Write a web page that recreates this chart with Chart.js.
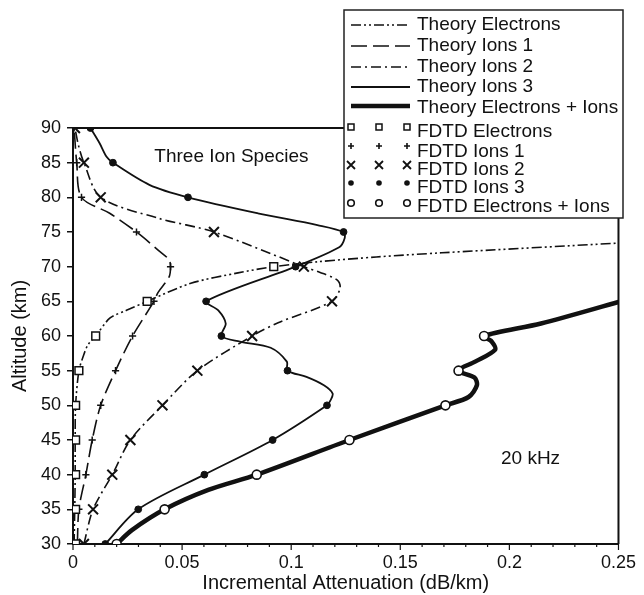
<!DOCTYPE html>
<html>
<head>
<meta charset="utf-8">
<script src="https://cdn.jsdelivr.net/npm/chart.js"></script>
<style>
  html, body { margin: 0; padding: 0; background: #ffffff; }
  #wrap { width: 644px; height: 595px; }
</style>
</head>
<body>
<div id="wrap"><canvas id="chart" width="644" height="595"></canvas></div>
<script>
// Altitudes (km) at which the FDTD attenuation was sampled
const altitudesKm = [30, 35, 40, 45, 50, 55, 60, 65, 70, 75, 80, 85, 90];

// FDTD incremental attenuation (dB/km) per altitude; null = off the plotted range
const fdtdElectrons      = [0.0012, 0.0012, 0.0012, 0.0012, 0.0012, 0.0027, 0.0104, 0.034, 0.092, null, null, null, null];
const fdtdIons1          = [0.002, 0.0027, 0.0059, 0.0088, 0.0127, 0.0195, 0.0273, 0.0371, 0.0447, 0.0291, 0.0039, 0.0017, 0.0005];
const fdtdIons2          = [0.005, 0.0092, 0.018, 0.0263, 0.041, 0.057, 0.0821, 0.1187, 0.1058, 0.0646, 0.0127, 0.005, 0.0009];
const fdtdIons3          = [0.0148, 0.0299, 0.0602, 0.0915, 0.1164, 0.0983, 0.068, 0.061, 0.102, 0.124, 0.0527, 0.0183, 0.008];
const fdtdElectronsIons  = [0.020, 0.042, 0.0842, 0.1267, 0.1707, 0.1767, 0.1884, null, null, null, null, null, null];

// Theory curves: attenuation (dB/km) with the matching altitude (km)
const theoryElectronsAtt = [0.0005, 0.0008, 0.001, 0.001, 0.0012, 0.0027, 0.0045, 0.0068, 0.0104, 0.017, 0.0245, 0.034, 0.054, 0.0756, 0.092, 0.112, 0.139, 0.169, 0.25];
const theoryElectronsAlt = [30, 35, 40, 45, 50, 55, 56.9, 58.7, 60, 62.6, 63.7, 65, 67.6, 69.1, 70, 70.7, 71.4, 72.0, 73.4];

const theoryIons1Att = [0.002, 0.0027, 0.0059, 0.0088, 0.0127, 0.0195, 0.0273, 0.0371, 0.039, 0.044, 0.0447, 0.044, 0.039, 0.0291, 0.0168, 0.0039, 0.0017, 0.0005];
const theoryIons1Alt = [30, 35, 40, 45, 50, 55, 60, 65, 66.3, 68.5, 70, 71, 72.4, 75, 77.7, 80, 85, 90];

const theoryIons2Att = [0.005, 0.0092, 0.018, 0.0263, 0.041, 0.057, 0.0821, 0.094, 0.1187, 0.1224, 0.121, 0.113, 0.1058, 0.0646, 0.039, 0.0127, 0.005, 0.0025, 0.0009];
const theoryIons2Alt = [30, 35, 40, 45, 50, 55, 60, 61.9, 65, 66.9, 68.1, 69.2, 70, 75, 77, 80, 85, 87.5, 90];

const theoryIons3Att = [0.0148, 0.0299, 0.0602, 0.0915, 0.1164, 0.118, 0.119, 0.115, 0.107, 0.0983, 0.098, 0.0906, 0.0765, 0.068, 0.070, 0.0666, 0.061, 0.102, 0.122, 0.1245, 0.124, 0.112, 0.0847, 0.0527, 0.035, 0.0183, 0.0153, 0.0122, 0.008];
const theoryIons3Alt = [30, 35, 40, 45, 50, 50.7, 51.7, 52.9, 54.1, 55, 56.3, 58.3, 59.2, 60, 61.8, 63.7, 65, 70, 72.8, 74.1, 75, 76.0, 77.7, 80, 81.8, 85, 85.9, 87.8, 90];

const theoryElectronsIonsAtt = [0.020, 0.027, 0.042, 0.062, 0.0842, 0.1267, 0.1707, 0.1813, 0.1851, 0.184, 0.1767, 0.1843, 0.1934, 0.1919, 0.1884, 0.2145, 0.25];
const theoryElectronsIonsAlt = [30, 32, 35, 37.8, 40, 45, 50, 51.2, 52.9, 54.0, 55, 56.3, 58.0, 59.2, 60, 61.8, 64.9];

// Axis ranges and tick labels
const attenuationTicks = [0, 0.05, 0.1, 0.15, 0.2, 0.25];
const altitudeTicks = [30, 35, 40, 45, 50, 55, 60, 65, 70, 75, 80, 85, 90];

// Text placed inside the plot, positioned in data units
const notes = [
  { text: 'Three Ion Species', x: 0.0726, y: 85.85 },
  { text: '20 kHz', x: 0.2097, y: 42.36 }
];

const FONT = '"Liberation Sans", Arial, Helvetica, sans-serif';
const INK = '#111111';

function pairs(xs, ys) {
  return xs.map((v, i) => ({ x: v, y: ys[i] }));
}
function profile(values) {
  return altitudesKm.map((a, i) => ({ x: values[i], y: a })).filter(p => p.x !== null);
}

const dashElectrons = [10, 3, 2, 3, 2, 3];
const dashIons1 = [16, 6];
const dashIons2 = [10, 4, 2, 4];

const theoryStyle = (data, dash, width) => ({
  data, showLine: true, borderColor: INK, borderWidth: width, borderDash: dash,
  pointRadius: 0, tension: 0.3, fill: false, order: 2
});
const fdtdStyle = (data, style, radius, bw, bg) => ({
  data, showLine: false, pointStyle: style, pointRadius: radius, pointBorderWidth: bw,
  pointBorderColor: INK, pointBackgroundColor: bg, order: 1
});

const datasets = [
  Object.assign({ label: 'Theory Electrons' }, theoryStyle(pairs(theoryElectronsAtt, theoryElectronsAlt), dashElectrons, 1.6)),
  Object.assign({ label: 'Theory Ions 1' }, theoryStyle(pairs(theoryIons1Att, theoryIons1Alt), dashIons1, 1.6)),
  Object.assign({ label: 'Theory Ions 2' }, theoryStyle(pairs(theoryIons2Att, theoryIons2Alt), dashIons2, 1.6)),
  Object.assign({ label: 'Theory Ions 3' }, theoryStyle(pairs(theoryIons3Att, theoryIons3Alt), [], 1.8)),
  Object.assign({ label: 'Theory Electrons + Ions' }, theoryStyle(pairs(theoryElectronsIonsAtt, theoryElectronsIonsAlt), [], 4.5)),
  Object.assign({ label: 'FDTD Electrons' }, fdtdStyle(profile(fdtdElectrons), 'rect', 5.5, 1.5, '#ffffff')),
  Object.assign({ label: 'FDTD Ions 1' }, fdtdStyle(profile(fdtdIons1), 'cross', 3.6, 1.5, INK)),
  Object.assign({ label: 'FDTD Ions 2' }, fdtdStyle(profile(fdtdIons2), 'crossRot', 7, 2, INK)),
  Object.assign({ label: 'FDTD Ions 3' }, fdtdStyle(profile(fdtdIons3), 'circle', 3.4, 1, INK)),
  Object.assign({ label: 'FDTD Electrons + Ions' }, fdtdStyle(profile(fdtdElectronsIons), 'circle', 4.5, 1.6, '#ffffff'))
];

// Legend rows: line samples for the theory curves, triple markers for FDTD
const legendRows = [
  { label: 'Theory Electrons', kind: 'line', dash: dashElectrons, width: 1.6, y: 25, ty: 25 },
  { label: 'Theory Ions 1', kind: 'line', dash: dashIons1, width: 1.6, y: 46, ty: 46 },
  { label: 'Theory Ions 2', kind: 'line', dash: dashIons2, width: 1.6, y: 67, ty: 67 },
  { label: 'Theory Ions 3', kind: 'line', dash: [], width: 1.8, y: 87, ty: 87 },
  { label: 'Theory Electrons + Ions', kind: 'line', dash: [], width: 4.5, y: 106, ty: 108 },
  { label: 'FDTD Electrons', kind: 'rect', y: 127, ty: 132 },
  { label: 'FDTD Ions 1', kind: 'cross', y: 146, ty: 152 },
  { label: 'FDTD Ions 2', kind: 'crossRot', y: 165, ty: 170 },
  { label: 'FDTD Ions 3', kind: 'dot', y: 183, ty: 188 },
  { label: 'FDTD Electrons + Ions', kind: 'ring', y: 203, ty: 207 }
];

function legendMarker(ctx, kind, x, y) {
  ctx.save();
  ctx.strokeStyle = INK; ctx.fillStyle = INK; ctx.setLineDash([]);
  ctx.beginPath();
  if (kind === 'rect') {
    ctx.lineWidth = 1.5; ctx.fillStyle = '#fff';
    ctx.rect(x - 3, y - 3, 6, 6); ctx.fill(); ctx.stroke();
  } else if (kind === 'cross') {
    ctx.lineWidth = 1.6;
    ctx.moveTo(x - 3, y); ctx.lineTo(x + 3, y); ctx.moveTo(x, y - 3); ctx.lineTo(x, y + 3); ctx.stroke();
  } else if (kind === 'crossRot') {
    ctx.lineWidth = 1.8;
    ctx.moveTo(x - 4, y - 4); ctx.lineTo(x + 4, y + 4); ctx.moveTo(x + 4, y - 4); ctx.lineTo(x - 4, y + 4); ctx.stroke();
  } else if (kind === 'dot') {
    ctx.arc(x, y, 2.8, 0, Math.PI * 2); ctx.fill();
  } else if (kind === 'ring') {
    ctx.lineWidth = 1.6; ctx.fillStyle = '#fff';
    ctx.arc(x, y, 3.3, 0, Math.PI * 2); ctx.fill(); ctx.stroke();
  }
  ctx.restore();
}

const decorations = {
  id: 'decorations',
  afterDraw(chart) {
    const { ctx, chartArea: a, scales: { x, y } } = chart;
    ctx.save();
    // frame on top and right of the plot
    ctx.strokeStyle = INK; ctx.lineWidth = 2; ctx.setLineDash([]);
    ctx.beginPath();
    ctx.moveTo(a.left, a.top); ctx.lineTo(a.right, a.top); ctx.lineTo(a.right, a.bottom);
    ctx.stroke();
    // attenuation ticks every 0.01, longer at labelled values
    ctx.lineWidth = 1.2;
    for (let i = 0; i <= 25; i++) {
      const px = x.getPixelForValue(i / 100);
      const len = i % 5 === 0 ? 6 : 3;
      ctx.beginPath(); ctx.moveTo(px, a.bottom); ctx.lineTo(px, a.bottom + len); ctx.stroke();
    }
    // in-plot notes
    ctx.fillStyle = INK; ctx.font = '19px ' + FONT;
    ctx.textAlign = 'center'; ctx.textBaseline = 'middle';
    notes.forEach(n => ctx.fillText(n.text, x.getPixelForValue(n.x), y.getPixelForValue(n.y)));
    // legend box
    const L = { left: 344, top: 10, width: 279, height: 208 };
    ctx.fillStyle = '#ffffff';
    ctx.fillRect(L.left, L.top, L.width, L.height);
    ctx.strokeStyle = '#222'; ctx.lineWidth = 1.5;
    ctx.strokeRect(L.left, L.top, L.width, L.height);
    legendRows.forEach(r => {
      if (r.kind === 'line') {
        ctx.save();
        ctx.strokeStyle = INK; ctx.lineWidth = r.width; ctx.setLineDash(r.dash);
        ctx.beginPath(); ctx.moveTo(351, r.y); ctx.lineTo(410, r.y); ctx.stroke();
        ctx.restore();
      } else {
        [351, 379, 407].forEach(mx => legendMarker(ctx, r.kind, mx, r.y));
      }
      ctx.fillStyle = INK; ctx.font = '19px ' + FONT;
      ctx.textAlign = 'left'; ctx.textBaseline = 'middle';
      ctx.fillText(r.label, 417, r.ty);
    });
    ctx.restore();
  }
};

new Chart(document.getElementById('chart'), {
  type: 'scatter',
  data: { datasets },
  options: {
    responsive: false,
    animation: false,
    events: [],
    devicePixelRatio: 1,
    layout: { padding: { top: 128, right: 19, left: 0, bottom: 0 } },
    plugins: { legend: { display: false }, tooltip: { enabled: false } },
    scales: {
      x: {
        type: 'linear', min: 0, max: 0.25,
        afterFit: s => { s.height = 51; },
        afterBuildTicks: s => { s.ticks = attenuationTicks.map(v => ({ value: v })); },
        ticks: {
          color: INK, padding: 8, maxRotation: 0, autoSkip: false,
          font: { family: FONT, size: 18 },
          callback: v => String(+v.toFixed(2))
        },
        grid: { display: false, drawTicks: false },
        border: { display: true, color: INK, width: 2 },
        title: {
          display: true, text: 'Incremental Attenuation (dB/km)', color: INK,
          font: { family: FONT, size: 20 }, padding: { top: 0, bottom: 0 }
        }
      },
      y: {
        type: 'linear', min: 30, max: 90,
        afterFit: s => { s.width = 73; },
        afterBuildTicks: s => { s.ticks = altitudeTicks.map(v => ({ value: v })); },
        ticks: {
          color: INK, padding: 6, autoSkip: false,
          font: { family: FONT, size: 18 }
        },
        grid: { display: true, drawOnChartArea: false, drawTicks: true, tickLength: 6, color: INK, lineWidth: 1.5 },
        border: { display: true, color: INK, width: 2 },
        title: {
          display: true, text: 'Altitude (km)', color: INK,
          font: { family: FONT, size: 20 }, padding: { top: 8, bottom: 0 }
        }
      }
    }
  },
  plugins: [decorations]
});
</script>
</body>
</html>
